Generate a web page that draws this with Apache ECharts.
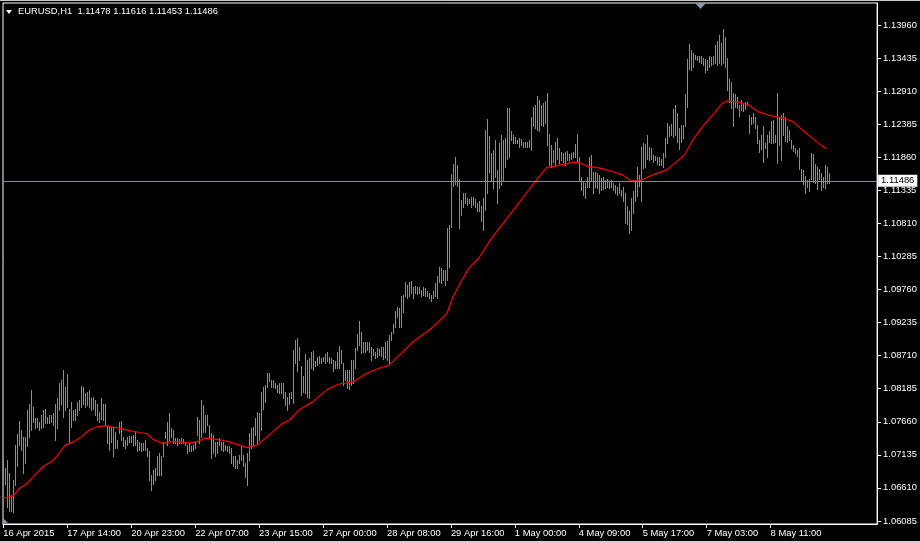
<!DOCTYPE html>
<html>
<head>
<meta charset="utf-8">
<script src="https://cdn.jsdelivr.net/npm/echarts@6/dist/echarts.min.js"></script>
<style>
html,body{margin:0;padding:0;background:#000;}
#c{width:920px;height:543px;}
</style>
</head>
<body>
<div id="c"></div>
<script>
// ---- data (EURUSD H1, bar high / low) ----
const symbolTitle = 'EURUSD,H1  1.11478 1.11616 1.11453 1.11486';
const lastBid = 1.11486;

const highs = [
1.0704,1.0692,1.0705,1.0684,1.0650,1.0674,1.0729,1.0747,1.0767,1.0753,
1.0742,1.0742,1.0785,1.0795,1.0817,1.0790,1.0772,1.0772,1.0766,1.0777,
1.0785,1.0786,1.0774,1.0777,1.0777,1.0780,1.0795,1.0803,1.0827,1.0832,
1.0848,1.0822,1.0842,1.0787,1.0798,1.0785,1.0787,1.0798,1.0801,1.0823,
1.0822,1.0811,1.0813,1.0817,1.0803,1.0806,1.0801,1.0795,1.0782,1.0803,
1.0795,1.0795,1.0761,1.0758,1.0758,1.0758,1.0750,1.0737,1.0766,1.0767,
1.0742,1.0737,1.0742,1.0743,1.0743,1.0745,1.0750,1.0737,1.0734,1.0732,
1.0732,1.0737,1.0724,1.0719,1.0682,1.0690,1.0692,1.0711,1.0716,1.0711,
1.0734,1.0750,1.0766,1.0780,1.0756,1.0753,1.0740,1.0740,1.0738,1.0740,
1.0738,1.0734,1.0729,1.0732,1.0727,1.0729,1.0734,1.0774,1.0769,1.0801,
1.0793,1.0777,1.0777,1.0761,1.0748,1.0745,1.0734,1.0734,1.0740,1.0734,
1.0734,1.0729,1.0727,1.0727,1.0724,1.0711,1.0711,1.0705,1.0713,1.0727,
1.0713,1.0700,1.0716,1.0748,1.0756,1.0758,1.0772,1.0782,1.0780,1.0814,
1.0822,1.0824,1.0844,1.0844,1.0832,1.0832,1.0827,1.0824,1.0827,1.0828,
1.0827,1.0814,1.0806,1.0811,1.0814,1.0880,1.0896,1.0899,1.0885,1.0854,
1.0838,1.0874,1.0864,1.0867,1.0877,1.0879,1.0862,1.0869,1.0871,1.0867,
1.0869,1.0874,1.0877,1.0869,1.0867,1.0864,1.0862,1.0877,1.0887,1.0880,
1.0859,1.0849,1.0849,1.0849,1.0864,1.0864,1.0883,1.0906,1.0926,1.0909,
1.0892,1.0892,1.0892,1.0892,1.0885,1.0881,1.0877,1.0883,1.0881,1.0884,
1.0885,1.0893,1.0895,1.0904,1.0909,1.0922,1.0942,1.0949,1.0946,1.0965,
1.0967,1.0988,1.0983,1.0988,1.0990,1.0980,1.0982,1.0980,1.0980,1.0976,
1.0980,1.0979,1.0973,1.0970,1.0967,1.0973,1.0987,1.0997,1.1012,1.1010,
1.1007,1.1007,1.1074,1.1078,1.1160,1.1176,1.1187,1.1174,1.1151,1.1118,
1.1129,1.1129,1.1121,1.1119,1.1123,1.1123,1.1119,1.1113,1.1116,1.1109,
1.1122,1.1230,1.1246,1.1219,1.1192,1.1198,1.1213,1.1166,1.1208,1.1221,
1.1213,1.1216,1.1264,1.1264,1.1227,1.1221,1.1218,1.1213,1.1216,1.1215,
1.1211,1.1211,1.1211,1.1213,1.1250,1.1266,1.1269,1.1283,1.1277,1.1269,
1.1272,1.1276,1.1288,1.1223,1.1206,1.1198,1.1211,1.1216,1.1200,1.1195,
1.1192,1.1195,1.1196,1.1191,1.1192,1.1195,1.1207,1.1223,1.1186,1.1155,
1.1147,1.1145,1.1155,1.1186,1.1189,1.1163,1.1163,1.1161,1.1158,1.1153,
1.1154,1.1150,1.1151,1.1147,1.1150,1.1145,1.1142,1.1139,1.1145,1.1134,
1.1139,1.1130,1.1108,1.1100,1.1121,1.1132,1.1150,1.1170,1.1158,1.1203,
1.1208,1.1207,1.1221,1.1203,1.1200,1.1190,1.1188,1.1187,1.1186,1.1184,
1.1193,1.1216,1.1241,1.1235,1.1239,1.1262,1.1269,1.1256,1.1232,1.1237,
1.1237,1.1287,1.1342,1.1366,1.1356,1.1351,1.1348,1.1347,1.1347,1.1346,
1.1343,1.1342,1.1340,1.1346,1.1345,1.1346,1.1364,1.1370,1.1380,1.1367,
1.1389,1.1377,1.1343,1.1311,1.1306,1.1288,1.1286,1.1281,1.1269,1.1277,
1.1271,1.1273,1.1274,1.1253,1.1250,1.1256,1.1250,1.1237,1.1213,1.1221,
1.1235,1.1208,1.1221,1.1227,1.1243,1.1245,1.1221,1.1288,1.1250,1.1253,
1.1256,1.1250,1.1236,1.1229,1.1214,1.1205,1.1200,1.1197,1.1200,1.1168,
1.1166,1.1156,1.1150,1.1151,1.1193,1.1191,1.1175,1.1170,1.1168,1.1161,
1.1155,1.1174,1.1171,1.11616
];

const lows = [
1.0682,1.0667,1.0631,1.0625,1.0625,1.0623,1.0666,1.0695,1.0729,1.0721,
1.0684,1.0700,1.0727,1.0742,1.0753,1.0766,1.0756,1.0758,1.0753,1.0756,
1.0758,1.0764,1.0764,1.0764,1.0766,1.0761,1.0737,1.0756,1.0785,1.0795,
1.0774,1.0785,1.0790,1.0732,1.0758,1.0769,1.0769,1.0777,1.0785,1.0790,
1.0795,1.0790,1.0793,1.0790,1.0785,1.0787,1.0777,1.0769,1.0766,1.0771,
1.0769,1.0761,1.0732,1.0721,1.0734,1.0711,1.0724,1.0724,1.0748,1.0737,
1.0727,1.0724,1.0729,1.0734,1.0734,1.0729,1.0729,1.0719,1.0721,1.0719,
1.0721,1.0721,1.0711,1.0674,1.0658,1.0668,1.0674,1.0682,1.0682,1.0682,
1.0711,1.0740,1.0729,1.0737,1.0742,1.0732,1.0732,1.0729,1.0732,1.0732,
1.0732,1.0729,1.0716,1.0719,1.0719,1.0721,1.0724,1.0745,1.0732,1.0742,
1.0750,1.0750,1.0761,1.0740,1.0708,1.0716,1.0711,1.0716,1.0729,1.0721,
1.0719,1.0721,1.0719,1.0716,1.0700,1.0695,1.0692,1.0692,1.0700,1.0705,
1.0695,1.0679,1.0666,1.0705,1.0724,1.0727,1.0745,1.0732,1.0737,1.0753,
1.0787,1.0798,1.0822,1.0830,1.0822,1.0822,1.0819,1.0814,1.0811,1.0811,
1.0803,1.0793,1.0785,1.0795,1.0803,1.0796,1.0859,1.0846,1.0864,1.0809,
1.0814,1.0811,1.0806,1.0803,1.0851,1.0848,1.0854,1.0856,1.0859,1.0859,
1.0862,1.0859,1.0862,1.0859,1.0859,1.0846,1.0851,1.0851,1.0851,1.0859,
1.0825,1.0833,1.0820,1.0818,1.0825,1.0828,1.0851,1.0880,1.0888,1.0875,
1.0877,1.0876,1.0880,1.0877,1.0864,1.0872,1.0867,1.0869,1.0872,1.0871,
1.0865,1.0867,1.0864,1.0859,1.0896,1.0907,1.0917,1.0933,1.0917,1.0917,
1.0941,1.0965,1.0962,1.0965,1.0970,1.0962,1.0970,1.0969,1.0970,1.0965,
1.0967,1.0965,1.0965,1.0962,1.0957,1.0962,1.0965,1.0962,1.0988,1.0986,
1.0991,1.0983,1.0991,1.1012,1.1076,1.1140,1.1144,1.1140,1.1074,1.1094,
1.1107,1.1113,1.1110,1.1113,1.1107,1.1110,1.1107,1.1100,1.1100,1.1084,
1.1071,1.1102,1.1129,1.1163,1.1150,1.1137,1.1155,1.1113,1.1137,1.1142,
1.1150,1.1171,1.1184,1.1187,1.1213,1.1208,1.1208,1.1208,1.1203,1.1205,
1.1203,1.1203,1.1203,1.1203,1.1198,1.1235,1.1232,1.1229,1.1227,1.1237,
1.1235,1.1240,1.1206,1.1174,1.1171,1.1179,1.1174,1.1184,1.1177,1.1182,
1.1179,1.1174,1.1182,1.1182,1.1184,1.1186,1.1187,1.1179,1.1150,1.1134,
1.1126,1.1121,1.1139,1.1139,1.1149,1.1129,1.1139,1.1137,1.1129,1.1134,
1.1135,1.1137,1.1139,1.1137,1.1139,1.1134,1.1129,1.1126,1.1129,1.1124,
1.1116,1.1081,1.1080,1.1065,1.1071,1.1097,1.1116,1.1124,1.1140,1.1116,
1.1169,1.1171,1.1184,1.1182,1.1184,1.1179,1.1182,1.1176,1.1174,1.1174,
1.1171,1.1187,1.1208,1.1219,1.1221,1.1218,1.1221,1.1211,1.1199,1.1211,
1.1216,1.1235,1.1266,1.1326,1.1325,1.1330,1.1342,1.1341,1.1338,1.1335,
1.1333,1.1322,1.1324,1.1330,1.1333,1.1334,1.1335,1.1333,1.1336,1.1333,
1.1335,1.1330,1.1293,1.1274,1.1264,1.1235,1.1266,1.1264,1.1251,1.1261,
1.1260,1.1262,1.1269,1.1225,1.1239,1.1240,1.1232,1.1209,1.1195,1.1199,
1.1179,1.1200,1.1186,1.1211,1.1209,1.1209,1.1211,1.1177,1.1205,1.1182,
1.1221,1.1212,1.1211,1.1214,1.1200,1.1196,1.1192,1.1188,1.1168,1.1149,
1.1144,1.1130,1.1139,1.1133,1.1151,1.1146,1.1145,1.1135,1.1151,1.1134,
1.1139,1.1137,1.1145,1.11453
];

// moving average (red line), bar index and value
const maIdx = [0,3,5,8,12,15,20,25,28,31,35,39,43,47,51,54,58,63,68,72,
75,80,83,88,92,97,101,105,109,113,118,122,127,132,137,140,143,148,155,162,
168,175,182,188,193,198,205,212,217,222,225,229,233,238,244,252,258,263,268,272,
276,281,285,288,292,298,305,310,314,318,325,332,337,341,345,350,355,360,362,368,
373,378,383,390,395,400,405,409,412];
const maVal = [1.0645,1.0647,1.0648,1.0660,1.0668,1.0679,1.0695,1.0705,1.0716,1.0729,
1.0734,1.0742,1.0753,1.0758,1.0760,1.0758,1.0756,1.0752,1.0749,1.0747,
1.0738,1.0731,1.0734,1.0734,1.0732,1.0734,1.0740,1.0739,1.0737,1.0734,
1.0729,1.0725,1.0729,1.0742,1.0756,1.0764,1.0768,1.0785,1.0798,1.0817,
1.0826,1.0829,1.0843,1.0851,1.0856,1.0871,1.0893,1.0909,1.0922,1.0938,
1.0964,1.0988,1.1010,1.1026,1.1056,1.1089,1.1113,1.1134,1.1155,1.1170,
1.1172,1.1175,1.1178,1.1178,1.1172,1.1169,1.1163,1.1158,1.1149,1.1148,
1.1158,1.1166,1.1179,1.1190,1.1213,1.1235,1.1253,1.1272,1.1275,1.1274,
1.1269,1.1258,1.1253,1.1248,1.1243,1.1229,1.1216,1.1206,1.1199];

// time axis labels (bar index where each label sits)
const timeIdx = [0,32,64,96,128,160,192,224,256,288,320,352,384];
const timeLabels = ['16 Apr 2015','17 Apr 14:00','20 Apr 23:00','22 Apr 07:00','23 Apr 15:00',
'27 Apr 00:00','28 Apr 08:00','29 Apr 16:00','1 May 00:00','4 May 09:00','5 May 17:00',
'7 May 03:00','8 May 11:00'];

// price axis labels
const priceTicks = [1.06085,1.06610,1.07135,1.07660,1.08185,1.08710,1.09235,1.09760,
1.10285,1.10810,1.11335,1.11860,1.12385,1.12910,1.13435,1.13960];

// ---- chart ----
const FONT = 'Liberation Sans, Arial, sans-serif';
const FS = 9.4;
const chart = echarts.init(document.getElementById('c'), null, {renderer: 'canvas'});
const barData = highs.map((h, i) => [i, h, lows[i]]);
const maData = maIdx.map((x, k) => [x, maVal[k]]);

chart.setOption({
  backgroundColor: '#000',
  animation: false,
  title: {
    text: symbolTitle, left: 18, top: 6, padding: 0,
    textStyle: {color: '#fff', fontSize: FS, fontWeight: 'normal', fontFamily: FONT, lineHeight: 11}
  },
  grid: {left: 3, right: 42, top: 3, bottom: 19, show: true, borderColor: '#fff', borderWidth: 1, backgroundColor: 'transparent'},
  xAxis: {
    type: 'value', min: -0.17, max: 437.33,
    axisLine: {show: true, onZero: false, lineStyle: {color: '#fff', width: 1}},
    axisTick: {show: true, customValues: timeIdx, length: 4, lineStyle: {color: '#fff'}},
    axisLabel: {
      customValues: timeIdx, color: '#fff', fontSize: FS, fontFamily: FONT, align: 'left', margin: 5,
      formatter: v => timeLabels[timeIdx.indexOf(v)] || ''
    },
    splitLine: {show: false}
  },
  yAxis: {
    type: 'value', position: 'right', min: 1.06037, max: 1.14309, scale: true,
    axisLine: {show: true, onZero: false, lineStyle: {color: '#fff', width: 1}},
    axisTick: {show: true, customValues: priceTicks, length: 4, lineStyle: {color: '#fff'}},
    axisLabel: {
      customValues: priceTicks, color: '#fff', fontSize: FS, fontFamily: FONT, margin: 6,
      formatter: v => v.toFixed(5)
    },
    splitLine: {show: false}
  },
  series: [
    {
      type: 'custom', data: barData, silent: true, clip: true,
      encode: {x: 0, y: [1, 2]},
      renderItem: (params, api) => {
        const top = api.coord([api.value(0), api.value(1)]);
        const bot = api.coord([api.value(0), api.value(2)]);
        const x = Math.round(top[0]) + 0.5;
        return {
          type: 'line',
          shape: {x1: x, y1: Math.round(top[1]), x2: x, y2: Math.round(bot[1]) + 1},
          style: {stroke: '#32cd32', lineWidth: 1}
        };
      }
    },
    {
      type: 'line', data: maData, showSymbol: false, silent: true,
      lineStyle: {color: '#ff0000', width: 1.2},
      z: 3,
      markLine: {
        silent: true, symbol: ['none', 'none'], precision: 5,
        data: [{yAxis: lastBid}],
        lineStyle: {color: '#7f8a96', width: 1, type: 'solid'},
        label: {
          show: true, position: 'end', distance: 1,
          formatter: () => lastBid.toFixed(5),
          color: '#000', backgroundColor: '#fff', padding: [2, 3, 1, 3],
          fontSize: FS, fontFamily: FONT
        }
      }
    }
  ],
  graphic: [
    {type: 'rect', shape: {x: 0, y: 0, width: 920, height: 1}, style: {fill: '#c8c8c8'}, silent: true},
    {type: 'rect', shape: {x: 0, y: 541, width: 920, height: 2}, style: {fill: '#d0d0d0'}, silent: true},
    {type: 'polygon', shape: {points: [[6, 10], [12, 10], [9, 14]]}, style: {fill: '#fff'}, silent: true},
    {type: 'polygon', shape: {points: [[695, 3], [706, 3], [700.5, 9]]}, style: {fill: '#8a97a6'}, silent: true},
    {type: 'polygon', shape: {points: [[3, 518], [3, 523], [8, 523]]}, style: {fill: '#8a97a6'}, silent: true}
  ]
});
</script>
</body>
</html>
